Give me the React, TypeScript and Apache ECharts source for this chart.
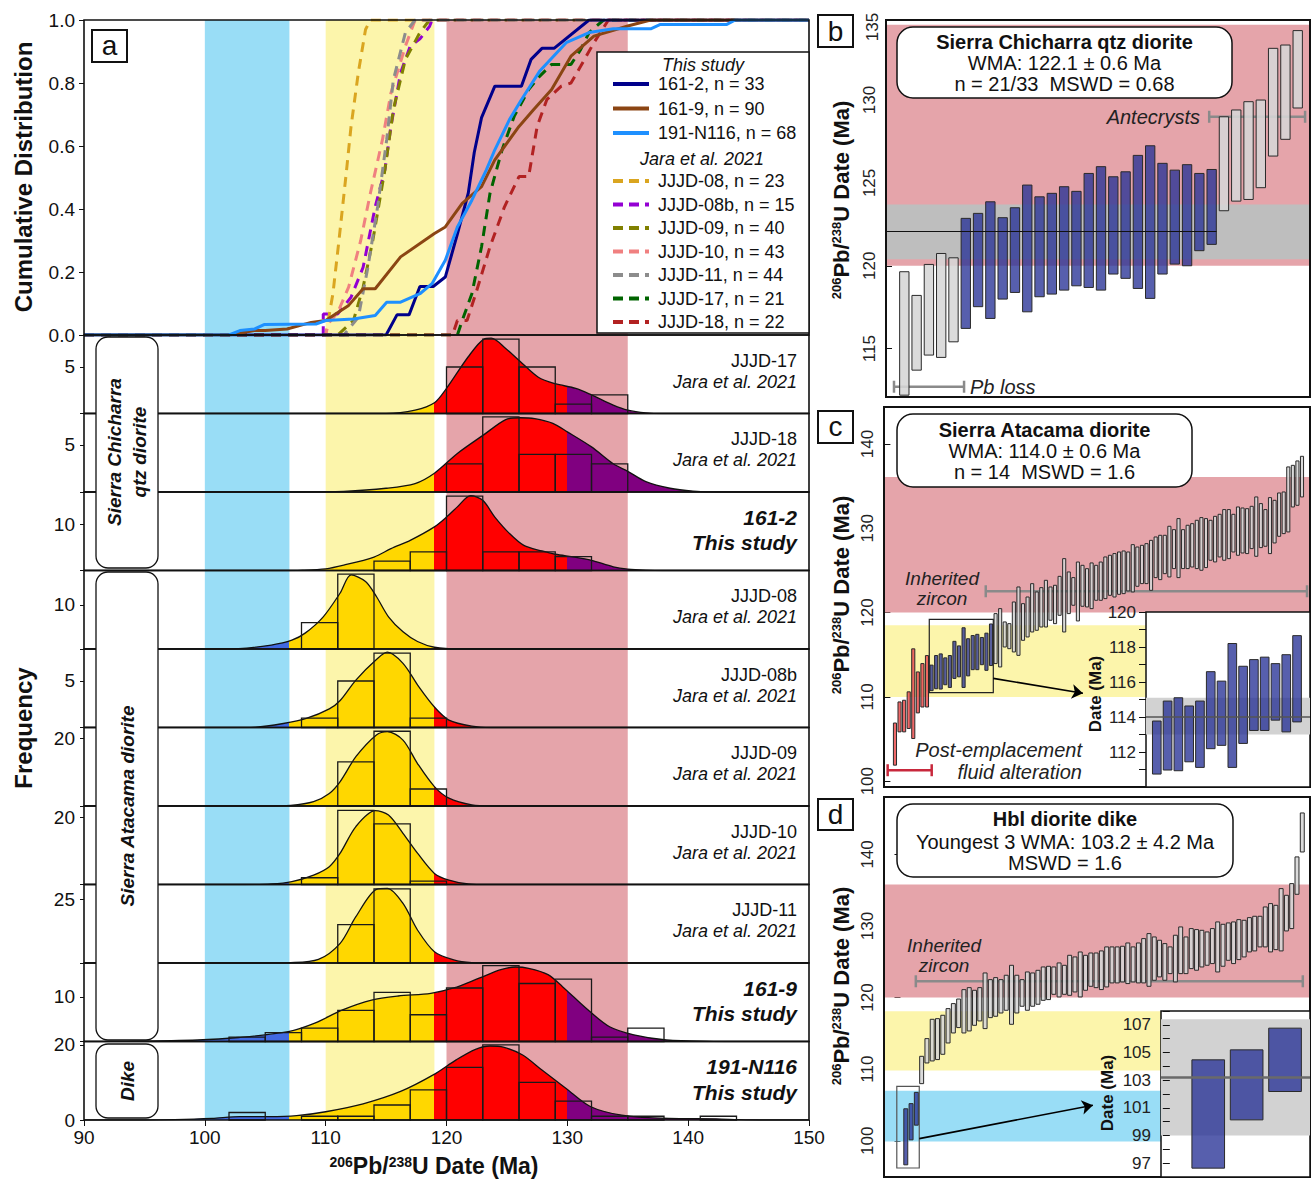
import React, { useEffect, useRef } from "react";
import * as echarts from "echarts";

const FONT = '"Liberation Sans", Arial, Helvetica, sans-serif';
const INK = "#111";
const PINK = "#E5A4AA";
const YELLOW = "#FCF5AB";
const SKY = "#99DDF6";
const WMA_GRAY = "#BEBEBE";
const INSET_GRAY = "#D2D2D2";
const BAR_BLUE = "rgba(40,50,150,0.78)";
const BAR_GRAY = "rgba(214,214,214,0.88)";
const BAR_RED = "rgba(236,84,84,0.88)";
const RANGE_GRAY = "#8A8A8A";
const RANGE_RED = "#C8283C";
const KDE_COLORS = ["#4169E1", "#FFD700", "#FF0000", "#800080"];

// ---------- panel a : shared age bands (Ma) ----------
const xTicksA = [90, 100, 110, 120, 130, 140, 150];
const bandBlueA = [100, 107];
const bandYellowA = [110, 119];
const bandPinkA = [120, 135];
const kdeBreaks = [107, 119, 130];

// ---------- cumulative distributions ----------
const cdf1612 = [[90,0],[115.0,0],[115.9,0.064],[116.9,0.064],[117.8,0.154],[118.9,0.154],[119.9,0.184],[120.9,0.32],[121.8,0.45],[122.3,0.58],[122.9,0.69],[124.0,0.79],[126.2,0.79],[127.0,0.875],[127.9,0.91],[128.9,0.91],[131.8,1],[150,1]];
const cdf1619 = [[90,0],[102.0,0],[104.1,0.014],[105.0,0.014],[106.8,0.019],[108.8,0.04],[110.0,0.046],[111.9,0.094],[113.1,0.147],[114.1,0.147],[116.2,0.248],[119.0,0.322],[119.9,0.343],[121.3,0.418],[122.9,0.471],[124.0,0.556],[126.0,0.662],[127.2,0.715],[128.7,0.779],[130.3,0.885],[132.2,0.949],[135.0,0.981],[136.9,1],[150,1]];
const cdf191 = [[90,0],[102.0,0],[102.9,0.014],[104.1,0.019],[104.9,0.033],[109.2,0.035],[110.0,0.046],[112.3,0.051],[114.1,0.062],[115.05,0.104],[116.2,0.104],[117.8,0.131],[118.8,0.163],[119.9,0.237],[120.9,0.343],[122.1,0.428],[123.3,0.524],[124.0,0.588],[125.2,0.683],[126.2,0.747],[127.7,0.837],[129.9,0.928],[131.8,0.96],[133.8,0.972],[136.9,0.972],[137.7,0.986],[143.2,0.986],[143.9,1],[150,1]];
const cdfJ08 = [[90,0],[110.0,0],[110.6,0.131],[111.1,0.30],[111.7,0.513],[112.1,0.662],[112.7,0.832],[113.3,0.97],[113.7,1],[150,1]];
const cdfJ08b = [[90,0],[109.8,0],[109.8,0.067],[111.0,0.067],[112.1,0.12],[113.1,0.215],[114.1,0.407],[114.9,0.524],[115.4,0.662],[116.2,0.832],[117.0,0.917],[117.8,0.94],[118.6,0.98],[118.8,1],[150,1]];
const cdfJ09 = [[90,0],[111.0,0],[112.3,0.046],[113.1,0.152],[113.9,0.30],[114.9,0.524],[115.6,0.715],[116.6,0.875],[117.8,0.96],[118.6,1],[150,1]];
const cdfJ10 = [[90,0],[110.0,0],[110.2,0.035],[111.0,0.072],[111.9,0.152],[112.9,0.30],[113.7,0.45],[114.7,0.62],[115.4,0.768],[116.6,0.917],[117.4,1],[150,1]];
const cdfJ11 = [[90,0],[111.5,0],[112.7,0.056],[113.5,0.216],[114.3,0.407],[115.05,0.62],[115.6,0.81],[116.6,0.96],[117.4,1],[150,1]];
const cdfJ17 = [[90,0],[120.9,0],[121.3,0.046],[122.1,0.131],[122.9,0.28],[123.6,0.45],[124.6,0.588],[125.6,0.694],[126.8,0.779],[127.7,0.821],[128.7,0.859],[130.3,0.859],[131.1,0.906],[131.8,0.96],[133.0,1],[150,1]];
const cdfJ18 = [[90,0],[120.5,0],[120.9,0.046],[121.7,0.046],[122.5,0.141],[123.6,0.28],[124.8,0.407],[126.0,0.503],[126.8,0.503],[127.5,0.662],[128.3,0.747],[129.5,0.79],[130.3,0.80],[131.1,0.853],[132.2,0.928],[133.4,1],[150,1]];

const cdfThisStudy = [
  { label: "161-2, n = 33", data: cdf1612, color: "#00008B" },
  { label: "161-9, n = 90", data: cdf1619, color: "#8B4513" },
  { label: "191-N116, n = 68", data: cdf191, color: "#1E90FF" },
];
const cdfJara = [
  { label: "JJJD-08, n = 23", data: cdfJ08, color: "#DAA520" },
  { label: "JJJD-08b, n = 15", data: cdfJ08b, color: "#9400D3" },
  { label: "JJJD-09, n = 40", data: cdfJ09, color: "#808000" },
  { label: "JJJD-10, n = 43", data: cdfJ10, color: "#F08080" },
  { label: "JJJD-11, n = 44", data: cdfJ11, color: "#8C8C8C" },
  { label: "JJJD-17, n = 21", data: cdfJ17, color: "#006400" },
  { label: "JJJD-18, n = 22", data: cdfJ18, color: "#B22222" },
];

// ---------- KDE curves (frequency units) ----------
const kdeJ17 = [[90,0],[115,0],[117.4,0.36],[119.0,1.15],[120,2.7],[121.8,6.1],[123.1,8.0],[123.7,8.1],[124.9,7.0],[126.1,5.6],[127.6,3.9],[129,3.2],[130.7,2.7],[132,2.0],[133.8,0.9],[135,0.36],[136.5,0.07],[138,0],[150,0]];
const kdeJ18 = [[90,0],[108,0],[111.5,0.07],[115,0.4],[117.4,0.9],[119,2.0],[120.9,4.1],[123.1,6.1],[124.9,7.7],[126.1,7.9],[127.3,7.8],[128.8,7.3],[130,6.4],[132,4.8],[133.8,3.0],[135,2.2],[136.5,1.1],[138.5,0.4],[140.4,0.1],[142.4,0],[150,0]];
const kde1612 = [[90,0],[106,0],[108.1,0.07],[110,0.36],[111.5,1.15],[114,2.9],[115.4,4.7],[117,6.5],[119,9.4],[120,11.5],[120.9,13.7],[122,16.1],[123,15.1],[124,11.5],[125.2,8.0],[126.4,5.4],[127.9,4.2],[129,3.5],[130.6,2.9],[132,2.2],[133.8,0.8],[135,0.3],[136.5,0.07],[138,0],[150,0]];
const kdeJ08 = [[90,0],[100,0],[102.8,0.08],[105.5,0.9],[107.2,2.0],[108.3,3.6],[109.8,7.3],[111.2,12.7],[112.1,16.8],[113.3,15.3],[114.2,11.9],[115.2,7.3],[116.4,3.9],[117.6,1.7],[119,0.4],[121,0],[150,0]];
const kdeJ08b = [[90,0],[102,0],[104.2,0.04],[106.5,0.43],[108.4,0.97],[110.3,2.0],[111.2,2.9],[112.5,5.1],[114.2,7.3],[115.1,8.1],[116.4,6.9],[117.7,4.4],[119,2.2],[120.2,0.8],[122.1,0.14],[123.7,0],[150,0]];
const kdeJ09 = [[90,0],[105,0],[107.1,0.2],[109,1.3],[110.3,3.7],[111.2,7.2],[112.5,14.5],[114.2,20.9],[115.1,21.9],[116.4,19.4],[117.6,12.5],[119,5.7],[120.2,2.3],[122.1,0.3],[123.7,0],[150,0]];
const kdeJ10 = [[90,0],[103,0],[105.5,0.15],[107.2,0.84],[109,2.8],[110.3,5.3],[111.2,9.3],[112.5,17.2],[114.1,21.9],[115.2,20.6],[116.4,15.2],[117.6,9.3],[119,3.3],[120.2,1.3],[121.8,0.15],[123.5,0],[150,0]];
const kdeJ11 = [[90,0],[105,0],[107.1,0.13],[109.4,1.4],[111.2,7.7],[112.5,18.1],[114.2,28.8],[115.1,29.2],[116.4,23.3],[117.6,12.9],[119,4.4],[120.6,1.2],[122.1,0.13],[123.5,0],[150,0]];
const kde1619 = [[90,0],[93.6,0.04],[99.4,0.34],[102.8,0.9],[106.9,2.2],[109.1,4.1],[111.4,7.1],[113.8,9.3],[116,10.2],[118.7,10.8],[120.6,12.0],[122.7,14.2],[124.5,16.1],[125.7,16.7],[126.8,16.4],[128.4,15.0],[129.6,12.3],[131.7,7.1],[133.5,3.3],[135.5,1.5],[138.2,0.34],[142.1,0.04],[145,0],[150,0]];
const kde191 = [[90,0],[95,0],[97.5,0.1],[100.6,0.44],[102.9,0.9],[105.3,0.9],[107.6,1.15],[110,2.2],[113.1,4.3],[116.2,7.6],[118.9,12.0],[120.8,16.0],[122.4,18.8],[123.6,19.7],[124.7,19.4],[126.3,17.3],[127.9,13.3],[129.9,8.4],[131.9,3.6],[134.5,1.3],[138.4,0.4],[142.3,0.3],[144.2,0.1],[146,0],[150,0]];

// ---------- histograms [bin start, bin end, count] ----------
const histJ17 = [[120,123,5],[123,126,8],[126,129,5],[129,132,1],[132,135,2]];
const histJ18 = [[120,123,3],[123,126,8],[126,129,4],[129,132,4],[132,135,3]];
const hist1612 = [[114,117,2],[117,120,4],[120,123,16],[123,126,4],[126,129,4],[129,132,3]];
const histJ08 = [[108,111,6],[111,114,17]];
const histJ08b = [[108,111,1],[111,114,5],[114,117,8],[117,120,1]];
const histJ09 = [[111,114,13],[114,117,22],[117,120,5]];
const histJ10 = [[108,111,2],[111,114,22],[114,117,18],[117,120,1]];
const histJ11 = [[111,114,15],[114,117,29]];
const hist1619 = [[102,105,1],[105,108,2],[108,111,3],[111,114,7],[114,117,11],[117,120,6],[120,123,12],[123,126,17],[126,129,13],[129,132,14],[132,135,1],[135,138,3]];
const hist191 = [[102,105,2],[108,111,1],[111,114,1],[114,117,4],[117,120,8],[120,123,14],[123,126,20],[126,129,10],[129,132,5],[132,135,1],[135,138,1],[141,144,1]];

const rowNames = ["JJJD-17", "JJJD-18", "161-2", "JJJD-08", "JJJD-08b", "JJJD-09", "JJJD-10", "JJJD-11", "161-9", "191-N116"];
const rowThisStudy = [false, false, true, false, false, false, false, false, true, true];
const rowYMax = [8.44, 8.35, 16.9, 17.8, 8.44, 23.1, 23.3, 30.7, 17.6, 20.9];
const rowTick = [5, 5, 10, 10, 5, 20, 20, 25, 10, 20];
const rowKde = [kdeJ17, kdeJ18, kde1612, kdeJ08, kdeJ08b, kdeJ09, kdeJ10, kdeJ11, kde1619, kde191];
const rowHist = [histJ17, histJ18, hist1612, histJ08, histJ08b, histJ09, histJ10, histJ11, hist1619, hist191];

// ---------- panel b : Sierra Chicharra qtz diorite (161-2), [low, high] Ma ----------
const bPbLoss = [[112.19,119.64],[113.70,118.21],[114.61,120.08],[114.47,120.74],[115.41,120.48]];
const bWma = [[116.22,122.86],[117.53,123.16],[116.82,123.86],[117.99,122.90],[118.39,123.50],[117.22,124.87],[118.13,124.16],[118.29,124.37],[118.53,124.77],[118.79,124.49],[118.69,125.57],[118.53,125.98],[119.50,125.37],[119.24,125.67],[118.63,126.66],[118.03,127.24],[119.50,126.18],[120.10,125.77],[120.00,126.10],[120.91,125.57],[121.29,125.81]];
const bAntecrysts = [[123.32,128.99],[123.90,129.40],[124.00,129.90],[124.71,130.00],[126.62,133.12],[127.63,133.32],[129.52,134.19]];
const bWmaValue = 122.1;
const bWmaBand = [120.4, 123.7];
const bPink = [120, 134.55];

// ---------- panel c : Sierra Atacama diorite (161-9) ----------
const cAltered = [[101.9,106.9],[105.85,109.4],[105.85,109.6],[106.25,110.6],[105.06,115.7],[108.1,112.96],[108.8,113.95],[108.8,114.9]];
const cWma = [[110.74,113.77],[110.97,114.91],[110.93,115.10],[111.44,114.63],[111.12,114.91],[112.19,116.59],[112.38,116.05],[111.12,118.20],[112.49,116.90],[113.23,117.28],[113.23,117.42],[113.82,117.05],[113.15,117.56],[113.72,118.65]];
const cInherited = [[113.95,119.88],[113.55,120.47],[115.92,118.89],[115.72,118.69],[115.33,121.26],[114.93,123.04],[116.71,121.06],[117.11,121.85],[117.70,123.43],[117.90,122.45],[118.29,122.96],[118.29,123.83],[119.09,123.04],[118.69,123.24],[119.68,124.30],[117.70,126.40],[119.88,124.82],[120.87,124.15],[119.01,126.00],[120.75,125.61],[120.67,125.21],[120.47,125.89],[121.46,125.61],[121.46,126.00],[121.66,126.60],[122.05,126.80],[121.85,127.00],[122.17,127.19],[122.25,127.31],[122.57,127.19],[122.45,128.06],[123.12,127.78],[123.44,127.98],[123.44,128.18],[122.64,128.57],[124.15,128.97],[123.91,129.17],[124.62,129.17],[124.23,130.24],[125.22,129.84],[124.15,131.15],[125.22,129.84],[125.22,130.36],[125.41,130.55],[125.22,130.95],[125.02,131.27],[125.34,131.15],[126.21,130.95],[126.01,131.42],[126.60,131.66],[126.21,132.22],[126.40,132.22],[127.19,131.66],[126.80,132.53],[127.07,132.41],[127.00,132.33],[127.59,132.61],[126.68,133.72],[127.71,132.93],[127.87,132.22],[127.00,133.64],[128.26,133.32],[129.05,134.19],[129.37,134.31],[129.57,137.28],[132.53,137.47],[132.73,137.99],[133.72,138.54]];
const cWmaValue = 114.0;
const cWmaBand = [113.0, 115.1];
const cPink = [120, 136.1];
const cYellow = [110, 118.5];

// ---------- panel d : Hbl diorite dike (191-N116) ----------
const dYoungest = [[96.64,104.47],[100.13,105.19],[102.18,106.76]];
const dInherited = [[107.98,111.80],[110.87,114.27],[111.15,116.97],[111.34,117.06],[112.08,117.53],[113.66,118.46],[115.06,119.16],[115.81,119.80],[115.06,121.11],[115.34,121.39],[116.13,121.02],[116.74,121.39],[115.67,123.44],[117.20,122.51],[117.39,122.79],[117.85,122.51],[118.23,123.12],[116.27,124.51],[117.85,123.12],[118.79,122.51],[118.23,123.58],[118.79,123.44],[119.07,123.81],[119.62,124.28],[119.72,124.37],[120.46,124.28],[120.09,124.84],[120.46,124.51],[120.32,125.91],[120.79,125.68],[120.09,126.37],[121.02,125.91],[121.58,126.23],[121.39,126.23],[121.12,126.52],[121.49,127.08],[122.05,127.08],[122.05,127.08],[122.19,127.17],[121.96,127.63],[122.19,127.08],[122.05,127.63],[122.05,128.24],[121.58,128.94],[122.42,128.47],[122.89,128.01],[122.42,127.54],[123.35,127.08],[122.19,128.71],[123.35,129.87],[123.35,128.47],[124.05,129.64],[123.82,129.50],[124.28,129.40],[124.52,129.17],[124.75,129.64],[123.58,130.57],[124.38,130.24],[125.21,130.43],[124.75,130.57],[125.31,130.89],[125.68,130.80],[126.38,131.17],[126.52,131.36],[127.08,131.36],[127.08,132.66],[126.38,133.13],[126.70,132.89],[126.52,135.22],[129.31,134.29],[129.64,135.92],[134.43,139.65],[140.34,145.79]];
const dWmaValue = 103.2;
const dWmaBand = [99.0, 107.4];
const dPink = [120, 135.8];
const dYellow = [109.8, 118.1];
const dBlue = [99.9, 107.0];

// ---------- helpers ----------
const toRank = (arr: number[][], start: number) => arr.map((d, k) => [start + k, d[0], d[1]]);

const rankRender = (fill: string, w: number) => (_p: any, api: any) => {
  const i = api.value(0);
  const p0 = api.coord([i - w / 2, api.value(2)]);
  const p1 = api.coord([i + w / 2, api.value(1)]);
  return {
    type: "rect",
    shape: { x: p0[0], y: p0[1], width: p1[0] - p0[0], height: p1[1] - p0[1] },
    style: { fill, stroke: "#2a2a2a", lineWidth: 1 },
  };
};

const histRender = (_p: any, api: any) => {
  const a = api.coord([api.value(0), api.value(2)]);
  const b = api.coord([api.value(1), 0]);
  return {
    type: "rect",
    shape: { x: a[0], y: a[1], width: b[0] - a[0], height: b[1] - a[1] },
    style: { fill: "transparent", stroke: "#1a1a1a", lineWidth: 1.3 },
  };
};

const rangeRender = (color: string, width = 2.5, cap = 6) => (_p: any, api: any) => {
  const y = api.value(2);
  const a = api.coord([api.value(0), y]);
  const b = api.coord([api.value(1), y]);
  const st = { stroke: color, lineWidth: width };
  return {
    type: "group",
    children: [
      { type: "line", shape: { x1: a[0], y1: a[1], x2: b[0], y2: b[1] }, style: st },
      { type: "line", shape: { x1: a[0], y1: a[1] - cap, x2: a[0], y2: a[1] + cap }, style: st },
      { type: "line", shape: { x1: b[0], y1: b[1] - cap, x2: b[0], y2: b[1] + cap }, style: st },
    ],
  };
};

const hBands = (bands: any[], z = 1) => ({
  silent: true,
  z,
  data: bands.map((b) => [{ yAxis: b[0], itemStyle: { color: b[2] } }, { yAxis: b[1] }]),
});

const T = (x: number, y: number, text: string, o: any = {}) => ({
  type: "text",
  x,
  y,
  z: 100,
  silent: true,
  rotation: o.rot || 0,
  style: {
    text,
    fontFamily: FONT,
    fontSize: o.size || 18,
    fontWeight: o.weight || "normal",
    fontStyle: o.italic ? "italic" : "normal",
    fill: o.color || INK,
    align: o.align || "center",
    verticalAlign: "middle",
    lineHeight: o.lh,
    rich: o.rich,
  },
});

const R = (x: number, y: number, w: number, h: number, o: any = {}) => ({
  type: "rect",
  z: o.z || 90,
  silent: true,
  shape: { x, y, width: w, height: h, r: o.r || 0 },
  style: { fill: o.fill || "#fff", stroke: o.stroke || INK, lineWidth: o.lw || 1.5 },
});

const pbTitle = (x: number, y: number, size: number, rot: number) =>
  T(x, y, "{s|206}Pb/{s|238}U Date (Ma)", {
    size,
    weight: "bold",
    rot,
    rich: { s: { fontSize: Math.round(size * 0.6), fontWeight: "bold", fontFamily: FONT, verticalAlign: "top", fill: INK } },
  });

function buildOption() {
  const grids: any[] = [];
  const xAxes: any[] = [];
  const yAxes: any[] = [];
  const series: any[] = [];
  const graphics: any[] = [];
  const hidden = { splitLine: { show: false }, axisLine: { show: false }, axisTick: { show: false }, axisLabel: { show: false } };
  const addGrid = (g: any, x: any, y: any) => {
    const gi = grids.length;
    grids.push({ containLabel: false, ...g });
    xAxes.push({ type: "value", gridIndex: gi, ...hidden, ...x });
    yAxes.push({ type: "value", gridIndex: gi, ...hidden, ...y });
    return gi;
  };
  const frame = (w: number, z = 5) => ({ show: true, borderColor: INK, borderWidth: w, backgroundColor: "transparent", z });

  // ===== panel a =====
  const gBg = addGrid({ left: 84, top: 20, width: 725, height: 1100 }, { min: xTicksA[0], max: xTicksA[xTicksA.length - 1] }, { min: 0, max: 1 });
  series.push({
    type: "line", xAxisIndex: gBg, yAxisIndex: gBg, data: [], z: 1, silent: true,
    markArea: {
      silent: true,
      z: 1,
      data: [
        [{ xAxis: bandBlueA[0], itemStyle: { color: SKY } }, { xAxis: bandBlueA[1] }],
        [{ xAxis: bandYellowA[0], itemStyle: { color: YELLOW } }, { xAxis: bandYellowA[1] }],
        [{ xAxis: bandPinkA[0], itemStyle: { color: PINK } }, { xAxis: bandPinkA[1] }],
      ],
    },
  });

  const gCdf = addGrid(
    { left: 84, top: 20, width: 725, height: 315, ...frame(1.6) },
    { min: 90, max: 150 },
    {
      min: 0, max: 1, interval: 0.2,
      axisTick: { show: true, length: 5, lineStyle: { color: INK } },
      axisLabel: { show: true, fontSize: 19, color: INK, fontFamily: FONT, margin: 9, formatter: (v: number) => v.toFixed(1) },
    }
  );
  [...cdfJara.map((d) => ({ ...d, dashed: true })), ...cdfThisStudy.map((d) => ({ ...d, dashed: false }))].forEach((d) => {
    series.push({
      type: "line", xAxisIndex: gCdf, yAxisIndex: gCdf, data: d.data, showSymbol: false, z: d.dashed ? 3 : 4,
      lineStyle: { color: d.color, width: 3, type: d.dashed ? [10, 7] : "solid" },
    });
  });

  const kdeIdx: number[] = [];
  const rowH = 78.5;
  rowNames.forEach((name, i) => {
    const last = i === rowNames.length - 1;
    const top = 335 + rowH * i;
    const gi = addGrid(
      { left: 84, top, width: 725, height: rowH, ...frame(1.6) },
      last
        ? {
            min: 90, max: 150, interval: 10,
            axisTick: { show: true, length: 6, lineStyle: { color: INK } },
            axisLabel: { show: true, fontSize: 19, color: INK, fontFamily: FONT, margin: 8 },
          }
        : { min: 90, max: 150 },
      {
        min: 0, max: rowYMax[i], interval: rowTick[i],
        axisTick: { show: true, length: 4, lineStyle: { color: INK } },
        axisLabel: {
          show: true, fontSize: 19, color: INK, fontFamily: FONT, margin: 9, showMaxLabel: false,
          formatter: (v: number) => (v === rowTick[i] || (last && v === 0) ? String(v) : ""),
        },
      }
    );
    kdeIdx.push(series.length);
    series.push({
      type: "line", xAxisIndex: gi, yAxisIndex: gi, data: rowKde[i], smooth: 0.3, showSymbol: false, z: 3,
      lineStyle: { color: "#111", width: 1.3 }, areaStyle: { opacity: 1 },
    });
    series.push({
      type: "custom", xAxisIndex: gi, yAxisIndex: gi, data: rowHist[i], renderItem: histRender,
      encode: { x: [0, 1], y: 2 }, z: 4, silent: true,
    });
    if (rowThisStudy[i]) {
      graphics.push(T(797, top + 25, name, { size: 21, weight: "bold", italic: true, align: "right" }));
      graphics.push(T(797, top + 50.5, "This study", { size: 21, weight: "bold", italic: true, align: "right" }));
    } else {
      graphics.push(T(797, top + 25.5, name, { size: 18, align: "right" }));
      graphics.push(T(797, top + 46.5, "Jara et al. 2021", { size: 18, italic: true, align: "right" }));
    }
  });

  // ===== panel b =====
  const gb = addGrid(
    { left: 886, top: 20, width: 424, height: 377, ...frame(2) },
    { min: -0.49, max: 34 },
    {
      min: 112.08, max: 134.83, splitNumber: 5,
      axisTick: { show: true, length: 6, lineStyle: { color: INK } },
      axisLabel: { show: true, rotate: 90, fontSize: 17, color: "#222", fontFamily: FONT, margin: 8, showMinLabel: false, showMaxLabel: false },
    }
  );
  series.push({ type: "line", xAxisIndex: gb, yAxisIndex: gb, data: [], z: 1, markArea: hBands([[bPink[0], bPink[1], PINK], [bWmaBand[0], bWmaBand[1], WMA_GRAY]]) });
  series.push({ type: "custom", xAxisIndex: gb, yAxisIndex: gb, z: 2, clip: true, renderItem: rangeRender(RANGE_GRAY), encode: { x: [0, 1], y: 2 }, data: [[0.16, 5.86, 112.7], [25.8, 33.6, 128.99]] });
  series.push({ type: "custom", xAxisIndex: gb, yAxisIndex: gb, z: 3, clip: true, renderItem: rankRender(BAR_GRAY, 0.76), encode: { x: 0, y: [1, 2] }, data: toRank(bPbLoss, 1) });
  series.push({ type: "custom", xAxisIndex: gb, yAxisIndex: gb, z: 3, clip: true, renderItem: rankRender(BAR_BLUE, 0.76), encode: { x: 0, y: [1, 2] }, data: toRank(bWma, 1 + bPbLoss.length) });
  series.push({ type: "custom", xAxisIndex: gb, yAxisIndex: gb, z: 3, clip: true, renderItem: rankRender(BAR_GRAY, 0.76), encode: { x: 0, y: [1, 2] }, data: toRank(bAntecrysts, 1 + bPbLoss.length + bWma.length) });
  series.push({
    type: "line", xAxisIndex: gb, yAxisIndex: gb, data: [], z: 4,
    markLine: { silent: true, z: 4, symbol: "none", label: { show: false }, lineStyle: { color: INK, width: 1.2, type: "solid" },
      data: [[{ coord: [-0.49, bWmaValue] }, { coord: [bPbLoss.length + bWma.length + 0.4, bWmaValue] }]] },
  });

  // ===== panel c =====
  const gc = addGrid(
    { left: 884, top: 407, width: 426, height: 380, ...frame(2) },
    { min: -1.4, max: 91.75 },
    {
      min: 99.31, max: 144.39, splitNumber: 5,
      axisTick: { show: true, length: 6, lineStyle: { color: INK } },
      axisLabel: { show: true, rotate: 90, fontSize: 17, color: "#222", fontFamily: FONT, margin: 8, showMinLabel: false, showMaxLabel: false },
    }
  );
  series.push({ type: "line", xAxisIndex: gc, yAxisIndex: gc, data: [], z: 1, markArea: hBands([[cPink[0], cPink[1], PINK], [cYellow[0], cYellow[1], YELLOW]]) });
  series.push({ type: "custom", xAxisIndex: gc, yAxisIndex: gc, z: 2, clip: true, renderItem: rangeRender(RANGE_GRAY), encode: { x: [0, 1], y: 2 }, data: [[20.85, 91.1, 122.53]] });
  series.push({ type: "custom", xAxisIndex: gc, yAxisIndex: gc, z: 2, clip: true, renderItem: rangeRender(RANGE_RED), encode: { x: [0, 1], y: 2 }, data: [[-0.6, 9.03, 101.3]] });
  series.push({ type: "custom", xAxisIndex: gc, yAxisIndex: gc, z: 3, clip: true, renderItem: rankRender(BAR_RED, 0.68), encode: { x: 0, y: [1, 2] }, data: toRank(cAltered, 1) });
  series.push({ type: "custom", xAxisIndex: gc, yAxisIndex: gc, z: 3, clip: true, renderItem: rankRender(BAR_BLUE, 0.68), encode: { x: 0, y: [1, 2] }, data: toRank(cWma, 1 + cAltered.length) });
  series.push({ type: "custom", xAxisIndex: gc, yAxisIndex: gc, z: 3, clip: true, renderItem: rankRender(BAR_GRAY, 0.68), encode: { x: 0, y: [1, 2] }, data: toRank(cInherited, 1 + cAltered.length + cWma.length) });
  const cBoxL = cAltered.length + 0.5;
  const cBoxR = cAltered.length + cWma.length + 0.5;
  series.push({
    type: "line", xAxisIndex: gc, yAxisIndex: gc, data: [], z: 6,
    markArea: { silent: true, z: 6, data: [[{ coord: [cBoxL, 119.2], itemStyle: { color: "rgba(0,0,0,0)", borderColor: "#222", borderWidth: 1.2 } }, { coord: [cBoxR, 110.5] }]] },
    markLine: { silent: true, z: 6, symbol: ["none", "arrow"], symbolSize: 11, label: { show: false }, lineStyle: { color: "#000", width: 1.6, type: "solid" },
      data: [[{ coord: [cBoxR, 112.2] }, { coord: [42.1, 110.43] }]] },
  });

  const gci = addGrid(
    { left: 1146, top: 612, width: 164, height: 175, show: true, backgroundColor: "#fff", borderColor: INK, borderWidth: 1.5, z: 10 },
    { min: 0, max: 15.2 },
    {
      min: 110, max: 120, interval: 1, z: 11,
      axisTick: { show: true, length: 7, lineStyle: { color: INK } },
      axisLabel: { show: true, fontSize: 17, color: "#222", fontFamily: FONT, margin: 10, formatter: (v: number) => (v % 2 === 0 && v > 110 ? String(v) : "") },
    }
  );
  series.push({ type: "line", xAxisIndex: gci, yAxisIndex: gci, data: [], z: 11, markArea: hBands([[cWmaBand[0], cWmaBand[1], INSET_GRAY]], 11) });
  series.push({ type: "custom", xAxisIndex: gci, yAxisIndex: gci, z: 12, clip: true, renderItem: rankRender(BAR_BLUE, 0.8), encode: { x: 0, y: [1, 2] }, data: toRank(cWma, 1) });
  series.push({
    type: "line", xAxisIndex: gci, yAxisIndex: gci, data: [], z: 13,
    markLine: { silent: true, z: 13, symbol: "none", label: { show: false }, lineStyle: { color: "#555", width: 1.5, type: "solid" },
      data: [[{ coord: [0, cWmaValue] }, { coord: [15.2, cWmaValue] }]] },
  });

  // ===== panel d =====
  const gd = addGrid(
    { left: 884, top: 797, width: 426, height: 380, ...frame(2) },
    { min: -3.12, max: 77.46 },
    {
      min: 94.94, max: 148.02, splitNumber: 5,
      axisTick: { show: true, length: 6, lineStyle: { color: INK } },
      axisLabel: { show: true, rotate: 90, fontSize: 17, color: "#222", fontFamily: FONT, margin: 8, showMinLabel: false, showMaxLabel: false },
    }
  );
  series.push({ type: "line", xAxisIndex: gd, yAxisIndex: gd, data: [], z: 1, markArea: hBands([[dPink[0], dPink[1], PINK], [dYellow[0], dYellow[1], YELLOW], [dBlue[0], dBlue[1], SKY]]) });
  series.push({ type: "custom", xAxisIndex: gd, yAxisIndex: gd, z: 2, clip: true, renderItem: rangeRender(RANGE_GRAY), encode: { x: [0, 1], y: 2 }, data: [[2.9, 76.1, 122.28]] });
  series.push({ type: "custom", xAxisIndex: gd, yAxisIndex: gd, z: 3, clip: true, renderItem: rankRender(BAR_BLUE, 0.75), encode: { x: 0, y: [1, 2] }, data: toRank(dYoungest, 1) });
  series.push({ type: "custom", xAxisIndex: gd, yAxisIndex: gd, z: 3, clip: true, renderItem: rankRender(BAR_GRAY, 0.75), encode: { x: 0, y: [1, 2] }, data: toRank(dInherited, 1 + dYoungest.length) });
  series.push({
    type: "line", xAxisIndex: gd, yAxisIndex: gd, data: [], z: 6,
    markArea: { silent: true, z: 6, data: [[{ coord: [-0.7, 107.6], itemStyle: { color: "rgba(0,0,0,0)", borderColor: "#555", borderWidth: 1.2 } }, { coord: [3.55, 96.2] }]] },
    markLine: { silent: true, z: 6, symbol: ["none", "arrow"], symbolSize: 11, label: { show: false }, lineStyle: { color: "#000", width: 1.6, type: "solid" },
      data: [[{ coord: [3.55, 100.3] }, { coord: [36.4, 104.96] }]] },
  });

  const gdi = addGrid(
    { left: 1161, top: 1011, width: 149, height: 166, show: true, backgroundColor: "#fff", borderColor: INK, borderWidth: 1.5, z: 10 },
    { min: -0.23, max: 3.65 },
    {
      min: 96, max: 108, interval: 1, z: 11,
      axisTick: { show: true, length: 7, lineStyle: { color: INK } },
      axisLabel: { show: true, fontSize: 17, color: "#222", fontFamily: FONT, margin: 10, formatter: (v: number) => (v % 2 === 1 ? String(v) : "") },
    }
  );
  series.push({ type: "line", xAxisIndex: gdi, yAxisIndex: gdi, data: [], z: 11, markArea: hBands([[dWmaBand[0], dWmaBand[1], INSET_GRAY]], 11) });
  series.push({ type: "custom", xAxisIndex: gdi, yAxisIndex: gdi, z: 12, clip: true, renderItem: rankRender(BAR_BLUE, 0.85), encode: { x: 0, y: [1, 2] }, data: toRank(dYoungest, 1) });
  series.push({
    type: "line", xAxisIndex: gdi, yAxisIndex: gdi, data: [], z: 13,
    markLine: { silent: true, z: 13, symbol: "none", label: { show: false }, lineStyle: { color: "#6a6a6a", width: 2.5, type: "solid" },
      data: [[{ coord: [-0.23, dWmaValue] }, { coord: [3.65, dWmaValue] }]] },
  });

  // ===== graphics: panel a =====
  graphics.push(R(92, 30, 35, 32, { lw: 2 }));
  graphics.push(T(109.5, 45, "a", { size: 28 }));
  graphics.push(T(23, 177, "Cumulative Distribution", { size: 24, weight: "bold", rot: Math.PI / 2 }));
  graphics.push(T(23, 728, "Frequency", { size: 24, weight: "bold", rot: Math.PI / 2 }));
  graphics.push(pbTitle(434, 1166, 23, 0));

  // legend
  graphics.push(R(597, 52, 212, 281, { lw: 1.5 }));
  graphics.push(T(703, 65, "This study", { size: 18, italic: true }));
  const solidY = [84, 108.5, 133];
  cdfThisStudy.forEach((d, k) => {
    graphics.push({ type: "line", z: 100, silent: true, shape: { x1: 613, y1: solidY[k], x2: 649, y2: solidY[k] }, style: { stroke: d.color, lineWidth: 4 } });
    graphics.push(T(658, solidY[k], d.label, { size: 18, align: "left" }));
  });
  graphics.push(T(702, 159, "Jara et al. 2021", { size: 18, italic: true }));
  const dashY = [181, 204.5, 228, 251.5, 275, 298.5, 322];
  cdfJara.forEach((d, k) => {
    graphics.push({ type: "line", z: 100, silent: true, shape: { x1: 613, y1: dashY[k], x2: 649, y2: dashY[k] }, style: { stroke: d.color, lineWidth: 4, lineDash: [10, 6] } });
    graphics.push(T(658, dashY[k], d.label, { size: 18, align: "left" }));
  });

  // group boxes
  graphics.push(R(96, 337, 62, 231, { r: 12, lw: 1.3 }));
  graphics.push(T(127, 452, "Sierra Chicharra\nqtz diorite", { size: 19, weight: "bold", italic: true, rot: Math.PI / 2, lh: 25 }));
  graphics.push(R(96, 572, 62, 468, { r: 12, lw: 1.3 }));
  graphics.push(T(127, 806, "Sierra Atacama diorite", { size: 19, weight: "bold", italic: true, rot: Math.PI / 2 }));
  graphics.push(R(96, 1044, 62, 74, { r: 12, lw: 1.3 }));
  graphics.push(T(127, 1081, "Dike", { size: 19, weight: "bold", italic: true, rot: Math.PI / 2 }));

  // ===== graphics: panels b, c, d =====
  graphics.push(R(818, 15, 35, 32, { lw: 2 }));
  graphics.push(T(835.5, 31, "b", { size: 28 }));
  graphics.push(R(818, 411, 35, 32, { lw: 2 }));
  graphics.push(T(835.5, 426, "c", { size: 28 }));
  graphics.push(R(818, 799, 35, 31, { lw: 2 }));
  graphics.push(T(835.5, 814, "d", { size: 28 }));

  graphics.push(pbTitle(841, 200, 22, Math.PI / 2));
  graphics.push(pbTitle(841, 595, 22, Math.PI / 2));
  graphics.push(pbTitle(841, 986, 22, Math.PI / 2));
  graphics.push(T(872, 27, "135", { size: 17, color: "#222", rot: Math.PI / 2 }));

  graphics.push(R(897, 27, 335, 71, { r: 16, lw: 1.5 }));
  graphics.push(T(1064.5, 42, "Sierra Chicharra qtz diorite", { size: 20, weight: "bold" }));
  graphics.push(T(1064.5, 63, "WMA: 122.1 ± 0.6 Ma", { size: 20 }));
  graphics.push(T(1064.5, 84, "n = 21/33  MSWD = 0.68", { size: 20 }));
  graphics.push(T(1200, 117, "Antecrysts", { size: 20, italic: true, align: "right", color: "#222" }));
  graphics.push(T(970, 387, "Pb loss", { size: 20, italic: true, align: "left", color: "#222" }));

  graphics.push(R(897, 414, 295, 73, { r: 16, lw: 1.5 }));
  graphics.push(T(1044.5, 430, "Sierra Atacama diorite", { size: 20, weight: "bold" }));
  graphics.push(T(1044.5, 451, "WMA: 114.0 ± 0.6 Ma", { size: 20 }));
  graphics.push(T(1044.5, 472, "n = 14  MSWD = 1.6", { size: 20 }));
  graphics.push(T(942, 578, "Inherited", { size: 19, italic: true, color: "#222" }));
  graphics.push(T(942, 598, "zircon", { size: 19, italic: true, color: "#222" }));
  graphics.push(T(1082, 750, "Post-emplacement", { size: 20, italic: true, align: "right", color: "#222" }));
  graphics.push(T(1082, 772, "fluid alteration", { size: 20, italic: true, align: "right", color: "#222" }));
  graphics.push(T(1095, 694, "Date (Ma)", { size: 17, weight: "bold", rot: Math.PI / 2 }));

  graphics.push(R(897, 804, 336, 73, { r: 16, lw: 1.5 }));
  graphics.push(T(1065, 819, "Hbl diorite dike", { size: 20, weight: "bold" }));
  graphics.push(T(1065, 842, "Youngest 3 WMA: 103.2 ± 4.2 Ma", { size: 20 }));
  graphics.push(T(1065, 863, "MSWD = 1.6", { size: 20 }));
  graphics.push(T(944, 945, "Inherited", { size: 19, italic: true, color: "#222" }));
  graphics.push(T(944, 965, "zircon", { size: 19, italic: true, color: "#222" }));
  graphics.push(T(1107, 1093, "Date (Ma)", { size: 17, weight: "bold", rot: Math.PI / 2 }));

  return {
    animation: false,
    backgroundColor: "#fff",
    textStyle: { fontFamily: FONT },
    grid: grids,
    xAxis: xAxes,
    yAxis: yAxes,
    visualMap: [
      {
        type: "piecewise", show: false, dimension: 0, seriesIndex: kdeIdx,
        pieces: [
          { lt: kdeBreaks[0], color: KDE_COLORS[0] },
          { gte: kdeBreaks[0], lt: kdeBreaks[1], color: KDE_COLORS[1] },
          { gte: kdeBreaks[1], lt: kdeBreaks[2], color: KDE_COLORS[2] },
          { gte: kdeBreaks[2], color: KDE_COLORS[3] },
        ],
      },
    ],
    series,
    graphic: { elements: graphics },
  };
}

export default function App() {
  const ref = useRef<HTMLDivElement>(null);
  useEffect(() => {
    document.body.style.margin = "0";
    const chart = echarts.init(ref.current!, null, { renderer: "svg" });
    chart.setOption(buildOption() as any);
    return () => chart.dispose();
  }, []);
  return <div ref={ref} style={{ position: "absolute", left: 0, top: 0, width: 1311, height: 1180, background: "#fff" }} />;
}
